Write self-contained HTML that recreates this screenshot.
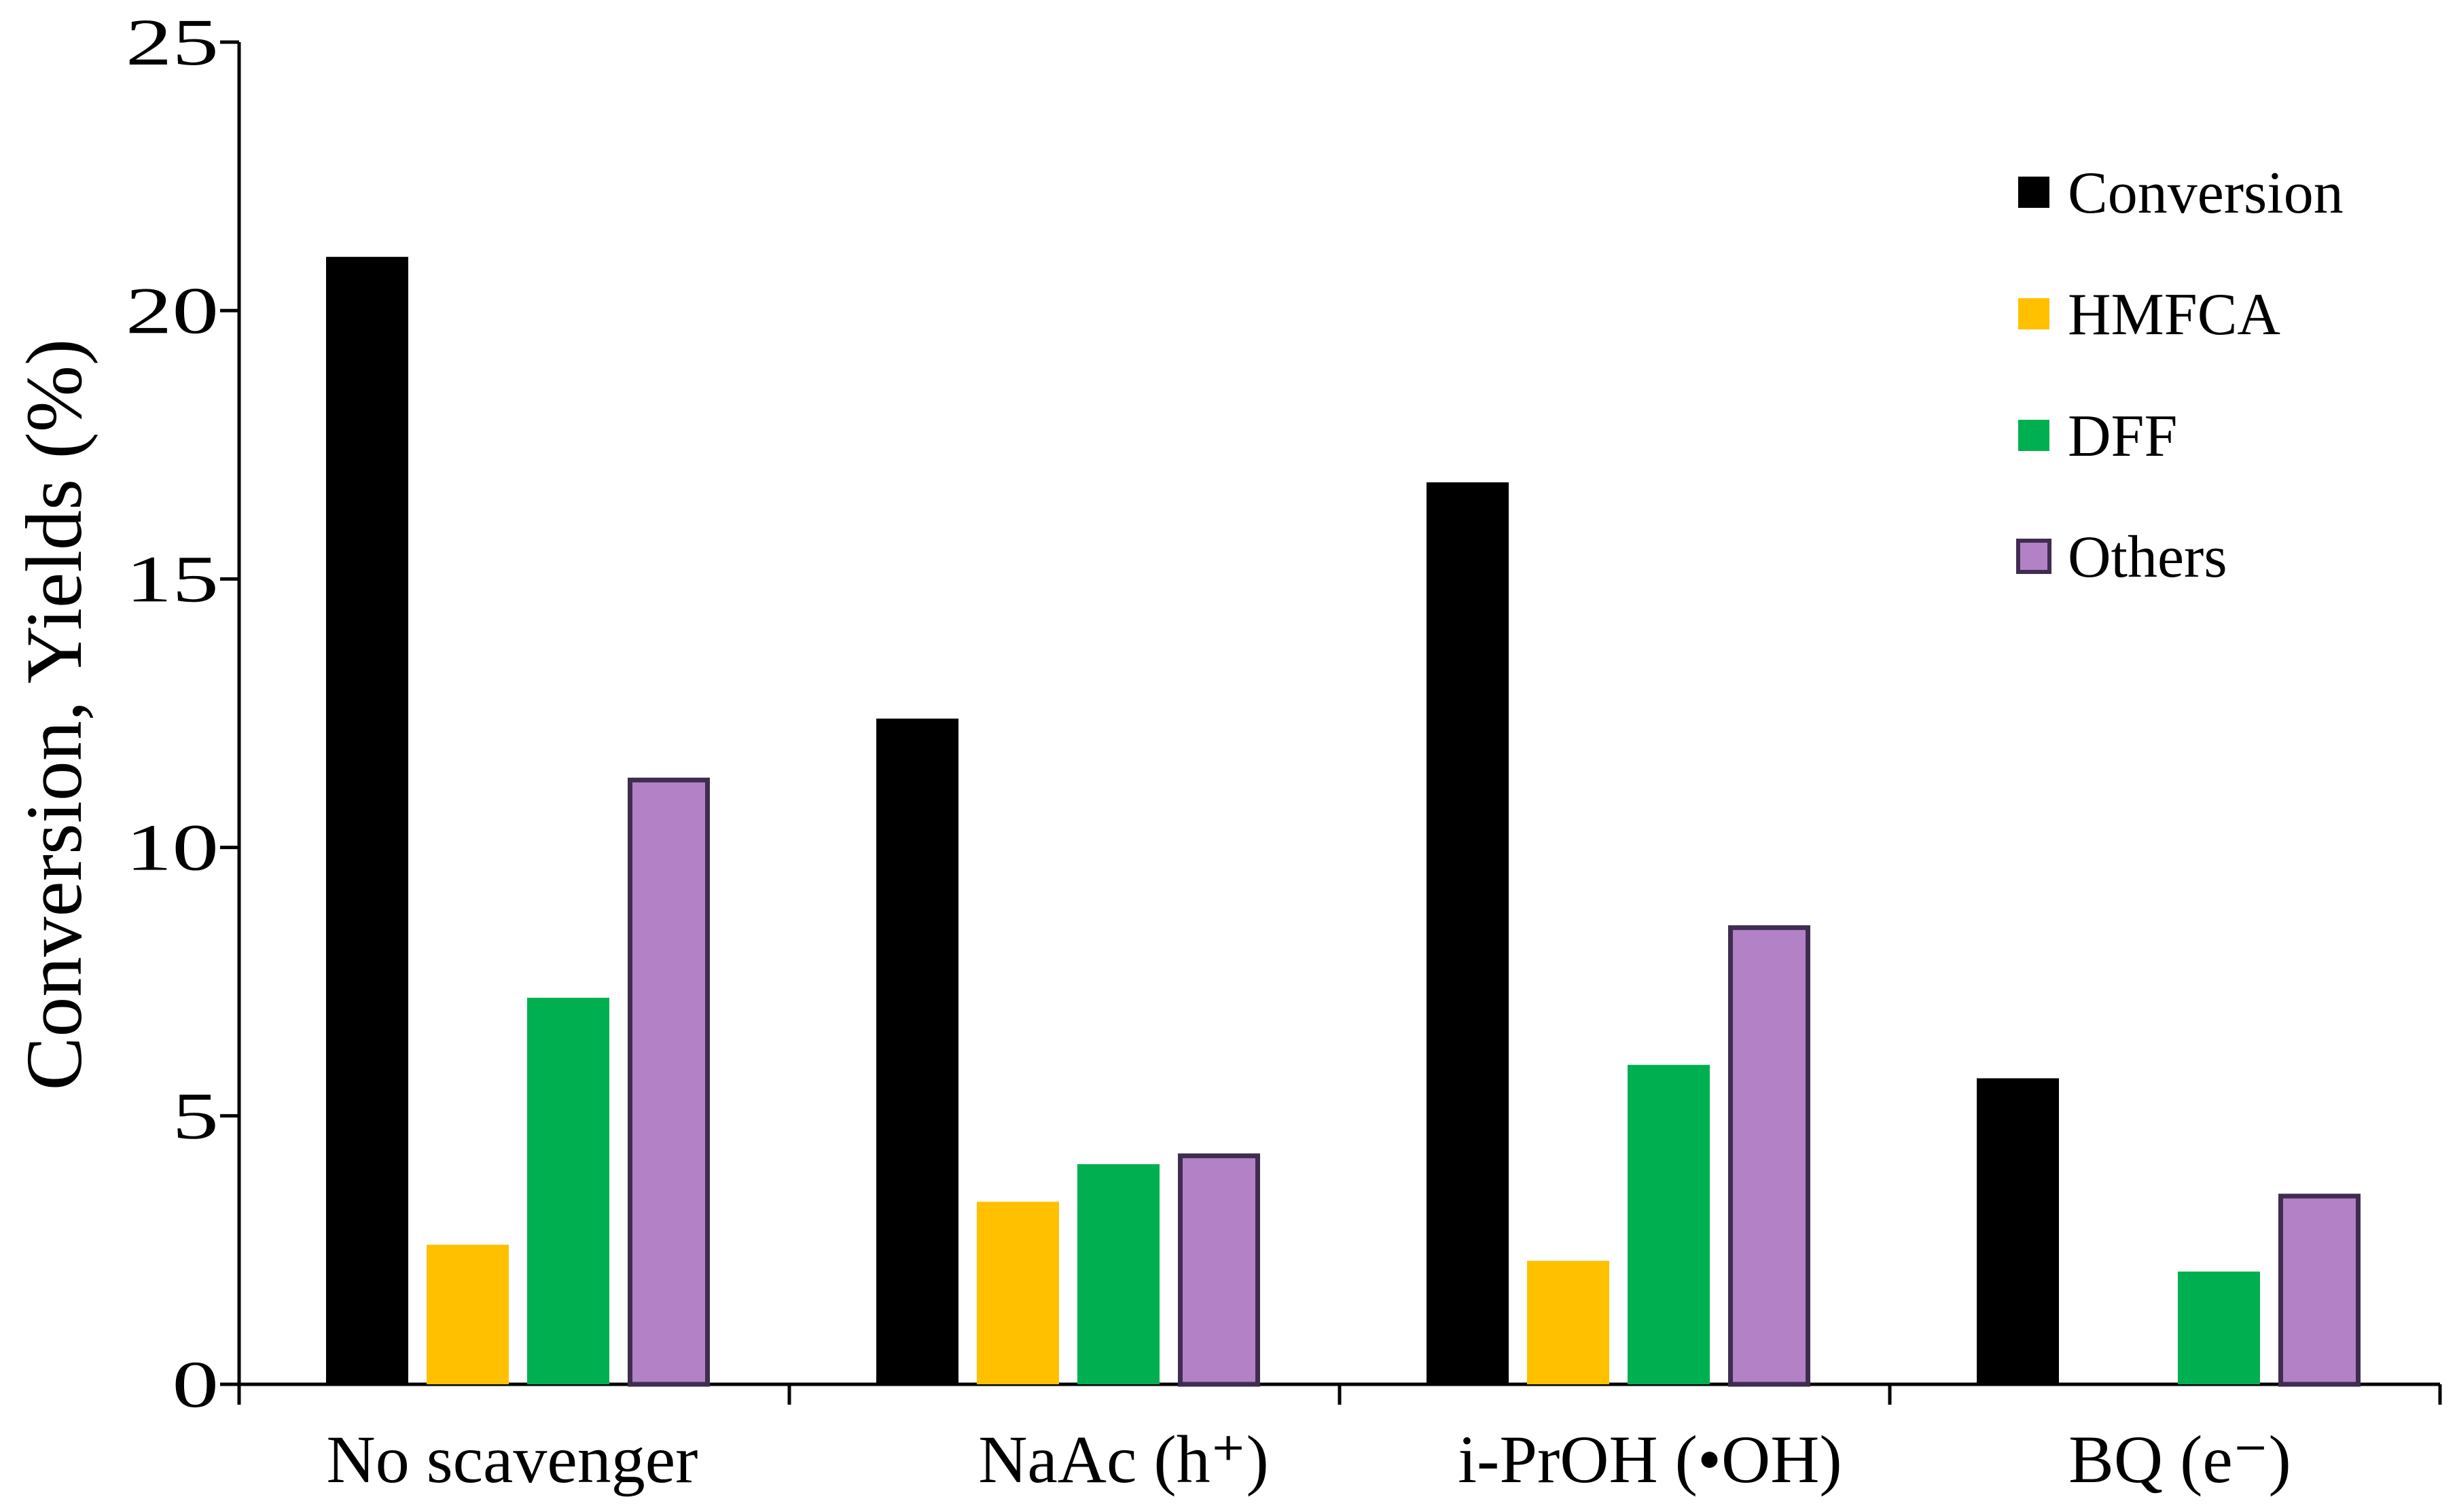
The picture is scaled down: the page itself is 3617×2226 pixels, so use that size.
<!DOCTYPE html>
<html><head><meta charset="utf-8"><style>
html,body{margin:0;padding:0;background:#fff;}
svg{display:block;font-family:"Liberation Serif",serif;}
</style></head><body>
<svg id="chart" width="3617" height="2226" viewBox="0 0 3617 2226" xmlns="http://www.w3.org/2000/svg">
<g id="axes"></g>
<g id="bars"></g>
<g id="legend"></g>
<text transform="translate(92,1052) rotate(-90)" text-anchor="middle" dominant-baseline="middle" font-size="118">Conversion, Yields (%)</text>
</svg>
<script>
const categories = ["No scavenger", "NaAc (h\u207A)", "i-PrOH (\u2022OH)", "BQ (e\u207B)"];
const seriesNames = ["Conversion", "HMFCA", "DFF", "Others"];
const conversion = [21.0, 12.4, 16.8, 5.7];
const hmfca = [2.6, 3.4, 2.3, 0];
const dff = [7.2, 4.1, 5.95, 2.1];
const others = [11.3, 4.3, 8.55, 3.55];
const yTicks = [0, 5, 10, 15, 20, 25];

const NS = "http://www.w3.org/2000/svg";
const X0 = 352, X1 = 3592, Y0 = 2038, Ytop = 62, YMAX = 25;
const catW = (X1 - X0) / categories.length;
const yScale = v => Y0 - v / YMAX * (Y0 - Ytop);
const xCat = i => X0 + i * catW;
const colors = ["#000000", "#ffc000", "#00b050", "#b381c6"];
const series = [conversion, hmfca, dff, others];
const labelShift = [5, 95, 60, 30];

function mk(tag, attrs, parent) {
  const el = document.createElementNS(NS, tag);
  for (const k in attrs) el.setAttribute(k, attrs[k]);
  parent.appendChild(el);
  return el;
}
const axes = document.getElementById("axes");
const bars = document.getElementById("bars");
const legend = document.getElementById("legend");

let ax = mk("line", {x1: X0, y1: Ytop, x2: X0, y2: Y0, stroke: "#000", "stroke-width": 5}, axes);


let bx = mk("line", {x1: X0, y1: Y0, x2: X1, y2: Y0, stroke: "#000", "stroke-width": 5}, axes);



yTicks.forEach(t => {
  const y = yScale(t);
  const tk = mk("line", {x1: X0 - 28, y1: y, x2: X0, y2: y, stroke: "#000", "stroke-width": 5}, axes);
  
  
  const lb = mk("text", {x: 0, y: 0, "text-anchor": "end", "font-size": 98, transform: "translate(322," + (y + 33) + ") scale(1.4,1)"}, axes);
  lb.textContent = t;
  
  
});
for (let i = 0; i <= categories.length; i++) {
  const x = xCat(i);
  const tk = mk("line", {x1: x, y1: Y0, x2: x, y2: Y0 + 30, stroke: "#000", "stroke-width": 5}, axes);
  
  
}
categories.forEach((c, i) => {
  const lb = mk("text", {x: xCat(i) + catW / 2 - 8 + labelShift[i], y: 2182, "text-anchor": "middle", "font-size": 100}, axes);
  lb.textContent = c;
  
  
});

const barW = 121, pitch = 148, off = 128;
series.forEach((vals, s) => {
  vals.forEach((v, i) => {
    if (v <= 0) return;
    const x = xCat(i) + off + s * pitch;
    const y = yScale(v);
    const attrs = {x: x, y: y, width: barW, height: Y0 - y, fill: colors[s]};
    if (s === 3) { attrs.stroke = "#3f2d50"; attrs["stroke-width"] = 7; attrs.x = x + 3.5; attrs.width = barW - 7; attrs.y = y + 3.5; attrs.height = Y0 - y - 3.5; }
    const r = mk("rect", attrs, bars);
    
    
  });
});

const legY = [283, 462, 641, 819];
seriesNames.forEach((n, s) => {
  const attrs = {x: 2971, y: legY[s] - 23, width: 46, height: 46, fill: colors[s]};
  if (s === 3) { attrs.stroke = "#3f2d50"; attrs["stroke-width"] = 6; }
  const sw = mk("rect", attrs, legend);
  
  
  const t = mk("text", {x: 3044, y: legY[s] + 30, "font-size": 88}, legend);
  t.textContent = n;
  
  
});
</script>
</body></html>
